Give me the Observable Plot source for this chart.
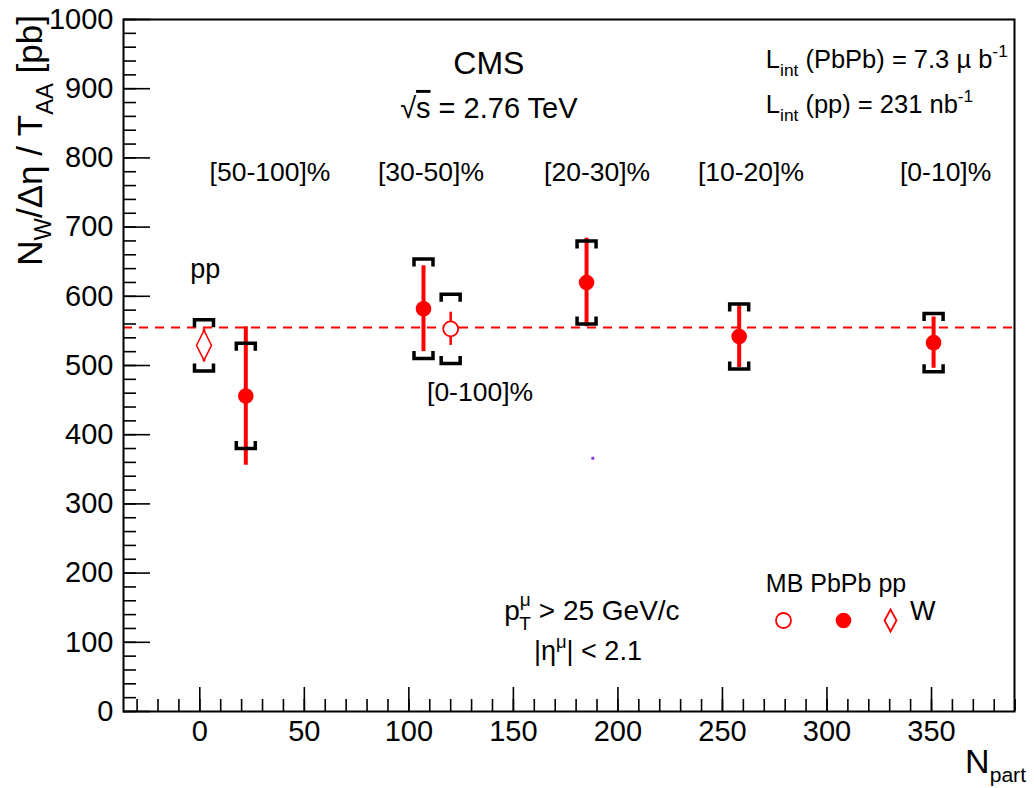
<!DOCTYPE html>
<html><head><meta charset="utf-8">
<script src="https://cdn.jsdelivr.net/npm/d3@7"></script>
<script src="https://cdn.jsdelivr.net/npm/@observablehq/plot@0.6"></script>
<style>
body{margin:0;background:#fff;}
#chart svg{font-family:"Liberation Sans",Arial,Helvetica,sans-serif;}
</style>
</head><body><div id="chart"></div>
<script>
// ---- data ----
const pointLabels = ["pp", "[50-100]%", "[30-50]%", "[0-100]%", "[20-30]%", "[10-20]%", "[0-10]%"];
const pointKind   = ["pp", "PbPb", "PbPb", "MB", "PbPb", "PbPb", "PbPb"];
const npart       = [2, 22, 107, 120, 185, 258, 351];
const yieldValue  = [529, 456, 582, 553, 620, 542, 533];
const statErr     = [24, 100, 62, 24, 64, 45, 37];
const systErr     = [37, 76, 72, 50, 60, 47, 42];
const refLevel    = 555;
const strayDot    = [{x: 188, y: 366}];

const xTicksMajor = [0, 50, 100, 150, 200, 250, 300, 350];
const xTicksMinor = d3.range(-30, 391, 10);
const yTicksMajor = [0, 100, 200, 300, 400, 500, 600, 700, 800, 900, 1000];
const yTicksMinor = d3.range(0, 1001, 20);

const centralityLabels = ["[50-100]%", "[30-50]%", "[20-30]%", "[10-20]%", "[0-10]%"];
const centralityLabelX = [33.8, 110.8, 190.3, 263.9, 357];

const legendKinds = ["MB", "PbPb", "pp"];
const legendX = [279.2, 307.9, 330.4];
const legendY = 131.5;

const rows = npart.map((x, i) => ({
  x, y: yieldValue[i], stat: statErr[i], syst: systErr[i], kind: pointKind[i], label: pointLabels[i]
}));
const pbpb = rows.filter(d => d.kind === "PbPb");
const mb = rows.filter(d => d.kind === "MB");
const pp = rows.filter(d => d.kind === "pp");
const legendRows = legendKinds.map((k, i) => ({kind: k, x: legendX[i], y: legendY}));

// ---- custom symbols ----
const BW = 9.5, BH = 7.5;
const bracketTop = {draw(c) { c.moveTo(-BW, BH); c.lineTo(-BW, 0); c.lineTo(BW, 0); c.lineTo(BW, BH); }};
const bracketBottom = {draw(c) { c.moveTo(-BW, -BH); c.lineTo(-BW, 0); c.lineTo(BW, 0); c.lineTo(BW, -BH); }};
const diamond = {draw(c) { c.moveTo(0, -15); c.lineTo(7.5, 0); c.lineTo(0, 15); c.lineTo(-7.5, 0); c.closePath(); }};
const diamondSmall = {draw(c) { c.moveTo(0, -11); c.lineTo(6, 0); c.lineTo(0, 11); c.lineTo(-6, 0); c.closePath(); }};

const RED = "#ff0000";

const chart = Plot.plot({
  width: 1034,
  height: 788,
  marginLeft: 123,
  marginRight: 20,
  marginTop: 19,
  marginBottom: 77,
  style: {fontFamily: "'Liberation Sans', Arial, sans-serif", color: "black", background: "white"},
  x: {domain: [-36.5, 389.7], axis: null, label: null},
  y: {domain: [0, 1000], axis: null, label: null},
  marks: [
    Plot.ruleY([refLevel], {stroke: RED, strokeWidth: 2, strokeDasharray: "9,7"}),
    // statistical error bars
    Plot.ruleX(pbpb, {x: "x", y1: d => d.y - d.stat, y2: d => d.y + d.stat, stroke: RED, strokeWidth: 4}),
    Plot.ruleX(mb, {x: "x", y1: d => d.y - d.stat, y2: d => d.y + d.stat, stroke: RED, strokeWidth: 2.5}),
    Plot.ruleX(pp, {x: "x", y1: d => d.y - d.stat, y2: d => d.y + d.stat, stroke: RED, strokeWidth: 2.5}),
    // systematic brackets
    Plot.dot(rows, {x: "x", y: d => d.y + d.syst, symbol: bracketTop, r: 5, fill: "none", stroke: "black", strokeWidth: 3.5}),
    Plot.dot(rows, {x: "x", y: d => d.y - d.syst, symbol: bracketBottom, r: 5, fill: "none", stroke: "black", strokeWidth: 3.5}),
    // markers
    Plot.dot(pbpb, {x: "x", y: "y", r: 7.8, fill: RED, stroke: "none"}),
    Plot.dot(mb, {x: "x", y: "y", r: 7.5, fill: "white", stroke: RED, strokeWidth: 1.8}),
    Plot.dot(pp, {x: "x", y: "y", symbol: diamond, r: 5, fill: "white", stroke: RED, strokeWidth: 1.5}),
    // legend markers
    Plot.dot(legendRows.filter(d => d.kind === "MB"), {x: "x", y: "y", r: 7.5, fill: "white", stroke: RED, strokeWidth: 1.8}),
    Plot.dot(legendRows.filter(d => d.kind === "PbPb"), {x: "x", y: "y", r: 7.8, fill: RED, stroke: "none"}),
    Plot.dot(legendRows.filter(d => d.kind === "pp"), {x: "x", y: "y", symbol: diamondSmall, r: 5, fill: "white", stroke: RED, strokeWidth: 1.8}),
    // stray pixel
    Plot.dot(strayDot, {x: "x", y: "y", symbol: "square", r: 1.6, fill: "#8a2be2"}),
    // axes
    Plot.axisX({ticks: xTicksMinor, tickSize: -12, text: null, fill: "none", strokeWidth: 1.6}),
    Plot.axisX({ticks: xTicksMajor, tickSize: -24, text: null, fill: "none", strokeWidth: 1.6}),
    Plot.axisX({ticks: xTicksMajor, tickSize: 0, tickPadding: 9, fontSize: 29, tickFormat: d => String(d), label: null}),
    Plot.axisY({ticks: yTicksMinor, tickSize: -13, text: null, fill: "none", strokeWidth: 1.6}),
    Plot.axisY({ticks: yTicksMajor, tickSize: -27, text: null, fill: "none", strokeWidth: 1.6}),
    Plot.axisY({ticks: yTicksMajor, tickSize: 0, tickPadding: 10, fontSize: 29, tickFormat: d => String(d), label: null}),
    Plot.frame({stroke: "black", strokeWidth: 2})
  ]
});

document.getElementById("chart").appendChild(chart);

// ---- rich text annotations placed through the plot's scales ----
const sx = chart.scale("x"), sy = chart.scale("y");
const svg = d3.select(chart.tagName.toLowerCase() === "svg" ? chart : chart.querySelector("svg"));
const ann = svg.append("g").attr("class", "annotations").attr("fill", "black");

function rich(t, segs, size) {
  let cur = 0;
  for (const s of segs) {
    const fs = s.sub || s.sup ? size * (s.scale || 0.68) : size;
    const off = s.sub ? size * (s.off ?? 0.3) : s.sup ? -size * (s.off ?? 0.45) : 0;
    const ts = t.append("tspan").attr("font-size", fs).text(s.t);
    ts.attr("dy", off - cur);
    if (s.dx) ts.attr("dx", s.dx);
    if (s.deco) ts.style("text-decoration", s.deco);
    cur = off;
  }
}
function addText(segs, xv, yv, size, anchor = "start") {
  const t = ann.append("text")
    .attr("x", sx.apply(xv)).attr("y", sy.apply(yv))
    .attr("font-size", size).attr("text-anchor", anchor);
  rich(t, segs, size);
  return t;
}

addText([{t: "CMS"}], 138.5, 921, 32, "middle");
addText([{t: "√"}, {t: "s", deco: "overline"}, {t: " = 2.76 TeV"}], 138.5, 857, 29, "middle");
addText([{t: "L"}, {t: "int", sub: true}, {t: " (PbPb) = 7.3 µ b"}, {t: "-1", sup: true}], 271, 929, 25.5);
addText([{t: "L"}, {t: "int", sub: true}, {t: " (pp) = 231 nb"}, {t: "-1", sup: true}], 271, 864, 25.5);
centralityLabels.forEach((l, i) => addText([{t: l}], centralityLabelX[i], 766, 26.5, "middle"));
addText([{t: "pp"}], 2.8, 626, 27, "middle");
addText([{t: "[0-100]%"}], 134.3, 448, 26.5, "middle");
addText([{t: "p"}, {t: "μ", sup: true, off: 0.5}, {t: "T", sub: true, off: 0.35, dx: "-0.6em"}, {t: " > 25 GeV/c"}], 187.8, 131, 28, "middle");
addText([{t: "|η"}, {t: "μ", sup: true, off: 0.45}, {t: "| < 2.1"}], 185.9, 73, 27, "middle");
addText([{t: "MB PbPb pp"}], 271, 172, 25);
addText([{t: "W"}], 340, 131, 27);

// axis titles
const yTitle = ann.append("text")
  .attr("transform", `translate(42, 15) rotate(-90)`)
  .attr("font-size", 35).attr("text-anchor", "end");
rich(yTitle, [{t: "N"}, {t: "W", sub: true, off: 0.25}, {t: "/Δη / T"}, {t: "AA", sub: true, off: 0.3}, {t: " [pb]"}], 35);
const xTitle = ann.append("text")
  .attr("x", 1026).attr("y", 773).attr("font-size", 34).attr("text-anchor", "end");
rich(xTitle, [{t: "N"}, {t: "part", sub: true, off: 0.25, scale: 0.62}], 34);
</script>
</body></html>
